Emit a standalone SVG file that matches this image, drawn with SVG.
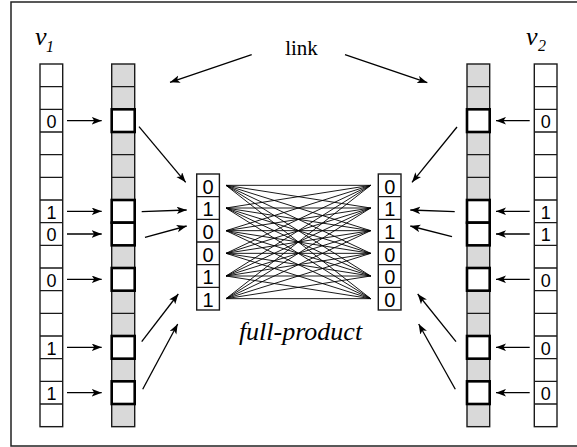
<svg xmlns="http://www.w3.org/2000/svg" width="577" height="447" viewBox="0 0 577 447">
<style>
.frame{fill:#fff;stroke:#222;stroke-width:1.5}
.col{fill:#fff;stroke:#1a1a1a;stroke-width:1.4}
.gcol{fill:#d9d9d9;stroke:#1a1a1a;stroke-width:1.4}
.grid{fill:none;stroke:#1a1a1a;stroke-width:1.4}
.hl{fill:#fff;stroke:#000;stroke-width:2.6}
.arr{stroke:#000;stroke-width:1.3;fill:none;marker-end:url(#ah)}
.bip{stroke:#000;stroke-width:0.9;fill:none}
</style>
<defs>
<marker id="ah" markerUnits="userSpaceOnUse" markerWidth="11" markerHeight="8" refX="10" refY="3.8" orient="auto">
<path d="M0,0 L10,3.8 L0,7.6 L2.5,3.8 Z" fill="#000"/>
</marker>
</defs>
<rect class="frame" x="11" y="2" width="567" height="444"/>

<g font-family="Liberation Serif, Times New Roman, DejaVu Serif, serif" fill="#000">
<g id="v1-label"><text x="35" y="45" font-size="26" font-style="italic">v</text><text x="46" y="52" font-size="16" font-style="italic">1</text></g>
<g id="v2-label"><text x="526" y="45" font-size="26" font-style="italic">v</text><text x="538" y="51" font-size="16" font-style="italic">2</text></g>
<g id="link-label"><text x="301.5" y="55" font-size="21" text-anchor="middle">link</text></g>
<g id="full-product-label"><text x="300.5" y="340" font-size="26" font-style="italic" text-anchor="middle">full-product</text></g>
</g>

<g id="v1">
<rect class="col" x="40" y="64" width="22.7" height="362.67"/>
<path class="grid" d="M40,86.67H62.7M40,109.33H62.7M40,132H62.7M40,154.67H62.7M40,177.33H62.7M40,200H62.7M40,222.67H62.7M40,245.33H62.7M40,268H62.7M40,290.67H62.7M40,313.33H62.7M40,336H62.7M40,358.67H62.7M40,381.33H62.7M40,404H62.7"/>
<g font-family="Liberation Sans, Arial, sans-serif" font-size="18" text-anchor="middle">
<text x="51.4" y="128">0</text>
<text x="51.4" y="218.7">1</text>
<text x="51.4" y="241.3">0</text>
<text x="51.4" y="286.7">0</text>
<text x="51.4" y="354.7">1</text>
<text x="51.4" y="400">1</text>
</g>
</g>

<g id="link1">
<rect class="gcol" x="111.7" y="64" width="23" height="362.67"/>
<path class="grid" d="M111.7,86.67H134.7M111.7,109.33H134.7M111.7,132H134.7M111.7,154.67H134.7M111.7,177.33H134.7M111.7,200H134.7M111.7,222.67H134.7M111.7,245.33H134.7M111.7,268H134.7M111.7,290.67H134.7M111.7,313.33H134.7M111.7,336H134.7M111.7,358.67H134.7M111.7,381.33H134.7M111.7,404H134.7"/>
<rect class="hl" x="111.7" y="109.33" width="23" height="22.67"/>
<rect class="hl" x="111.7" y="200" width="23" height="22.67"/>
<rect class="hl" x="111.7" y="222.67" width="23" height="22.67"/>
<rect class="hl" x="111.7" y="268" width="23" height="22.67"/>
<rect class="hl" x="111.7" y="336" width="23" height="22.67"/>
<rect class="hl" x="111.7" y="381.33" width="23" height="22.67"/>
</g>

<g id="link2">
<rect class="gcol" x="467" y="64" width="22.7" height="362.67"/>
<path class="grid" d="M467,86.67H489.7M467,109.33H489.7M467,132H489.7M467,154.67H489.7M467,177.33H489.7M467,200H489.7M467,222.67H489.7M467,245.33H489.7M467,268H489.7M467,290.67H489.7M467,313.33H489.7M467,336H489.7M467,358.67H489.7M467,381.33H489.7M467,404H489.7"/>
<rect class="hl" x="467" y="109.33" width="22.7" height="22.67"/>
<rect class="hl" x="467" y="200" width="22.7" height="22.67"/>
<rect class="hl" x="467" y="222.67" width="22.7" height="22.67"/>
<rect class="hl" x="467" y="268" width="22.7" height="22.67"/>
<rect class="hl" x="467" y="336" width="22.7" height="22.67"/>
<rect class="hl" x="467" y="381.33" width="22.7" height="22.67"/>
</g>

<g id="v2">
<rect class="col" x="534.3" y="64" width="22.7" height="362.67"/>
<path class="grid" d="M534.3,86.67H557M534.3,109.33H557M534.3,132H557M534.3,154.67H557M534.3,177.33H557M534.3,200H557M534.3,222.67H557M534.3,245.33H557M534.3,268H557M534.3,290.67H557M534.3,313.33H557M534.3,336H557M534.3,358.67H557M534.3,381.33H557M534.3,404H557"/>
<g font-family="Liberation Sans, Arial, sans-serif" font-size="18" text-anchor="middle">
<text x="545.7" y="128">0</text>
<text x="545.7" y="218.7">1</text>
<text x="545.7" y="241.3">1</text>
<text x="545.7" y="286.7">0</text>
<text x="545.7" y="354.7">0</text>
<text x="545.7" y="400">0</text>
</g>
</g>

<g id="mid-left">
<rect class="col" x="196.7" y="174" width="22.7" height="136"/>
<path class="grid" d="M196.7,196.67H219.4M196.7,219.33H219.4M196.7,242H219.4M196.7,264.67H219.4M196.7,287.33H219.4"/>
<g font-family="Liberation Sans, Arial, sans-serif" font-size="20" text-anchor="middle">
<text x="208" y="193.5">0</text>
<text x="208" y="216.2">1</text>
<text x="208" y="238.8">0</text>
<text x="208" y="261.5">0</text>
<text x="208" y="284.2">1</text>
<text x="208" y="306.8">1</text>
</g>
</g>

<g id="mid-right">
<rect class="col" x="378.3" y="174" width="22.7" height="136"/>
<path class="grid" d="M378.3,196.67H401M378.3,219.33H401M378.3,242H401M378.3,264.67H401M378.3,287.33H401"/>
<g font-family="Liberation Sans, Arial, sans-serif" font-size="20" text-anchor="middle">
<text x="389.7" y="193.5">0</text>
<text x="389.7" y="216.2">1</text>
<text x="389.7" y="238.8">1</text>
<text x="389.7" y="261.5">0</text>
<text x="389.7" y="284.2">0</text>
<text x="389.7" y="306.8">0</text>
</g>
</g>

<g id="connectors">
<path class="bip" d="M226,185.33L370.7,185.33M226,185.33L370.7,208M226,185.33L370.7,230.67M226,185.33L370.7,253.33M226,185.33L370.7,276M226,185.33L370.7,298.67M226,208L370.7,185.33M226,208L370.7,208M226,208L370.7,230.67M226,208L370.7,253.33M226,208L370.7,276M226,208L370.7,298.67M226,230.67L370.7,185.33M226,230.67L370.7,208M226,230.67L370.7,230.67M226,230.67L370.7,253.33M226,230.67L370.7,276M226,230.67L370.7,298.67M226,253.33L370.7,185.33M226,253.33L370.7,208M226,253.33L370.7,230.67M226,253.33L370.7,253.33M226,253.33L370.7,276M226,253.33L370.7,298.67M226,276L370.7,185.33M226,276L370.7,208M226,276L370.7,230.67M226,276L370.7,253.33M226,276L370.7,276M226,276L370.7,298.67M226,298.67L370.7,185.33M226,298.67L370.7,208M226,298.67L370.7,230.67M226,298.67L370.7,253.33M226,298.67L370.7,276M226,298.67L370.7,298.67"/>
<line class="arr" x1="67" y1="120.7" x2="101.7" y2="120.7"/>
<line class="arr" x1="67" y1="211.3" x2="101.7" y2="211.3"/>
<line class="arr" x1="67" y1="234" x2="101.7" y2="234"/>
<line class="arr" x1="67" y1="279.3" x2="101.7" y2="279.3"/>
<line class="arr" x1="67" y1="347.3" x2="101.7" y2="347.3"/>
<line class="arr" x1="67" y1="392.7" x2="101.7" y2="392.7"/>
<line class="arr" x1="529.7" y1="120.7" x2="496" y2="120.7"/>
<line class="arr" x1="529.7" y1="211.3" x2="496" y2="211.3"/>
<line class="arr" x1="529.7" y1="234" x2="496" y2="234"/>
<line class="arr" x1="529.7" y1="279.3" x2="496" y2="279.3"/>
<line class="arr" x1="529.7" y1="347.3" x2="496" y2="347.3"/>
<line class="arr" x1="529.7" y1="392.7" x2="496" y2="392.7"/>
<line class="arr" x1="139" y1="126.7" x2="185.7" y2="182.3"/>
<line class="arr" x1="141.7" y1="211.7" x2="186.7" y2="210"/>
<line class="arr" x1="145" y1="237.3" x2="186.7" y2="226"/>
<line class="arr" x1="141.7" y1="341.7" x2="178.3" y2="294"/>
<line class="arr" x1="142.7" y1="389.3" x2="177.7" y2="324"/>
<line class="arr" x1="457" y1="127" x2="412" y2="182.3"/>
<line class="arr" x1="454.7" y1="211.7" x2="410.3" y2="210"/>
<line class="arr" x1="452" y1="236.7" x2="410.3" y2="226"/>
<line class="arr" x1="456" y1="341.7" x2="417.7" y2="294"/>
<line class="arr" x1="455.3" y1="389.3" x2="418.7" y2="324"/>
<line class="arr" x1="251.7" y1="54.7" x2="170" y2="82.3"/>
<line class="arr" x1="345" y1="54.7" x2="427.3" y2="82.7"/>
</g>
</svg>
